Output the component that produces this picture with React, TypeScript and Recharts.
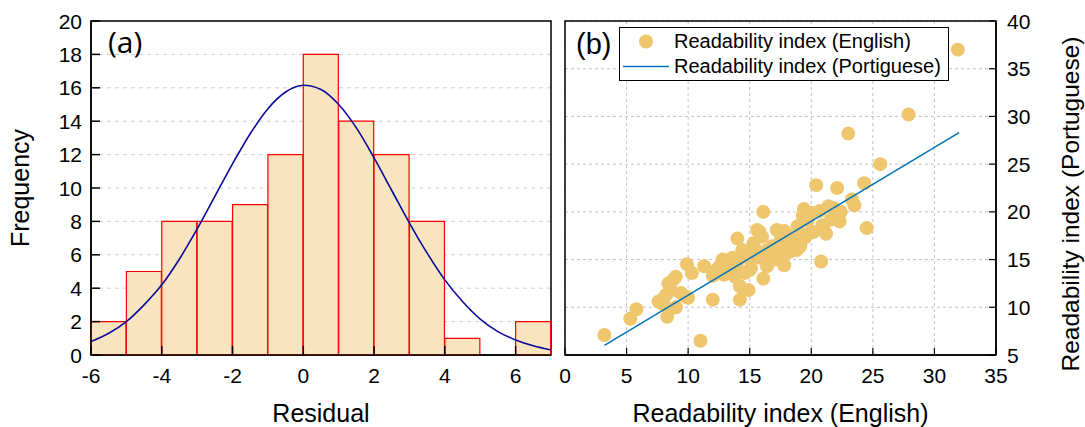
import React from 'react';
import {
  ComposedChart, Bar, Line, XAxis, YAxis, CartesianGrid, ReferenceArea,
  ScatterChart, Scatter, Legend,
} from 'recharts';

// (a) histogram of residuals + fitted normal curve
const binCenters = [-5.5, -4.5, -3.5, -2.5, -1.5, -0.5, 0.5, 1.5, 2.5, 3.5, 4.5, 5.5, 6.5];
const binCounts = [2, 5, 8, 8, 9, 12, 18, 14, 12, 8, 1, 0, 2];
const curveX = [-6, -5.5, -5, -4.5, -4, -3.5, -3, -2.5, -2, -1.5, -1, -0.5, 0, 0.5, 1, 1.5, 2, 2.5, 3, 3.5, 4, 4.5, 5, 5.5, 6, 6.5, 7];
const curveY = [0.8, 1.3, 2.0, 3.0, 4.2, 5.75, 7.55, 9.5, 11.45, 13.25, 14.75, 15.75, 16.15, 15.9, 15.0, 13.6, 11.8, 9.85, 7.9, 6.1, 4.5, 3.2, 2.15, 1.4, 0.9, 0.55, 0.3];
const residualTicks = [-6, -4, -2, 0, 2, 4, 6];
const freqTicks = [0, 2, 4, 6, 8, 10, 12, 14, 16, 18, 20];

// (b) readability scatter + fit line
const englishIdx = [
  3.2, 5.3, 5.8, 8.3, 9.0, 7.6, 8.0, 9.8, 8.4, 9.0, 8.6, 9.9, 10.3, 11.0, 11.3, 12.0, 12.0, 12.8, 12.9, 14.0, 14.2, 14.2, 14.9, 14.1, 13.3, 15.1, 15.5, 15.6, 16.1,
  25.6, 20.4, 22.1, 24.3, 23.5, 23.3, 24.5, 19.4, 20.7, 21.4, 22.0, 22.3, 21.2, 20.9, 19.9, 19.1, 19.7, 15.8, 17.2, 18.0, 18.6, 19.1, 18.8, 17.8, 17.5, 17.0, 16.4, 15.3, 15.1, 14.5, 16.1, 12.8, 20.8, 17.5, 18.3, 16.4, 13.8, 13.4,
  31.9, 27.9, 23.0,
  8.2, 8.8, 7.9, 9.4, 8.5, 10.0, 12.5, 13.0, 13.9, 14.6, 15.0, 15.8, 16.2, 16.8, 17.3, 18.2, 18.9, 19.3, 20.0, 21.0, 21.6, 22.4, 16.0, 15.4, 14.4, 17.8, 19.5, 20.2, 21.8, 13.6, 12.2,
];
const portugueseIdx = [
  7.1, 8.8, 9.8, 9.0, 10.0, 10.6, 10.9, 11.1, 12.5, 13.2, 11.8, 14.5, 13.6, 6.5, 14.3, 10.8, 13.3, 15.0, 13.4, 17.2, 10.8, 12.2, 11.8, 15.0, 14.5, 14.1, 16.0, 18.1, 20.0,
  25.0, 22.8, 22.5, 23.0, 20.7, 21.3, 18.3, 20.3, 20.1, 20.6, 19.5, 19.0, 17.7, 18.6, 17.8, 17.7, 19.1, 17.9, 18.1, 17.6, 17.2, 16.4, 16.0, 14.4, 15.3, 15.0, 16.0, 16.7, 15.0, 15.3, 13.0, 14.8, 14.8, 17.0, 16.4, 14.3, 13.2, 14.1,
  37.0, 30.2, 28.2,
  11.3, 12.9, 10.4, 11.5, 9.8, 11.0, 14.2, 14.6, 14.4, 13.6, 13.9, 15.2, 15.6, 16.4, 16.1, 15.8, 18.5, 19.6, 19.9, 18.2, 19.2, 20.0, 17.4, 16.2, 16.0, 18.0, 17.3, 17.9, 20.4, 15.2, 13.8,
];
const fitEnglish = [3.2, 32.0];
const fitPortuguese = [6.0, 28.3];
const englishTicks = [0, 5, 10, 15, 20, 25, 30, 35];
const portugueseTicks = [5, 10, 15, 20, 25, 30, 35, 40];

const binData = binCenters.map((b, i) => ({ bin: b, count: binCounts[i] }));
const curveData = curveX.map((x, i) => ({ x, y: curveY[i] }));
const scatterData = englishIdx.map((x, i) => ({ x, y: portugueseIdx[i] }));
const fitData = fitEnglish.map((x, i) => ({ x, y: fitPortuguese[i] }));

const FONT = '"Liberation Sans", Arial, Helvetica, sans-serif';
const MARKER = '#EEC66E';
const FIT = '#0072BD';

const HistXTick = (p: any) => (
  <g>
    <line x1={p.x} x2={p.x} y1={p.y} y2={p.y - 9} stroke="#000" strokeWidth={1.5} />
    <text x={p.x} y={p.y + 28} textAnchor="middle" fontSize={21} fontFamily={FONT} fill="#000">
      {p.payload.value}
    </text>
  </g>
);

const HistYTick = (p: any) => (
  <g>
    <line x1={p.x} x2={p.x + 9} y1={p.y} y2={p.y} stroke="#000" strokeWidth={1.5} />
    <text x={p.x - 9} y={p.y + 7.5} textAnchor="end" fontSize={21} fontFamily={FONT} fill="#000">
      {p.payload.value}
    </text>
  </g>
);

const ScatXTick = (p: any) => (
  <g>
    <line x1={p.x} x2={p.x} y1={p.y} y2={p.y - 7} stroke="#000" strokeWidth={1.2} />
    <text x={p.x} y={p.y + 28} textAnchor="middle" fontSize={21} fontFamily={FONT} fill="#000">
      {p.payload.value}
    </text>
  </g>
);

const ScatYTick = (p: any) => (
  <g>
    <line x1={p.x} x2={p.x - 7} y1={p.y} y2={p.y} stroke="#000" strokeWidth={1.2} />
    <text x={p.x + 11} y={p.y + 7.5} textAnchor="start" fontSize={21} fontFamily={FONT} fill="#000">
      {p.payload.value}
    </text>
  </g>
);

const titleX = (text: string) => (props: any) => {
  const vb = props.viewBox || {};
  return (
    <text x={vb.x + vb.width / 2} y={vb.y + 67} textAnchor="middle" fontSize={25} fontFamily={FONT} fill="#000">
      {text}
    </text>
  );
};

const freqTitle = (props: any) => {
  const vb = props.viewBox || {};
  return (
    <text transform={`translate(${vb.x + 29},${vb.y + vb.height / 2}) rotate(-90)`} textAnchor="middle" fontSize={25} fontFamily={FONT} fill="#000">
      Frequency
    </text>
  );
};

const portTitle = (props: any) => {
  const vb = props.viewBox || {};
  return (
    <text transform={`translate(${vb.x + 83},${vb.y + vb.height / 2 + 16}) rotate(-90)`} textAnchor="middle" fontSize={24.5} fontFamily={FONT} fill="#000">
      Readability index (Portuguese)
    </text>
  );
};

const LegendBox = (props: any) => {
  const items = props.payload || [];
  return (
    <div style={{ width: 330, height: 54, border: '1px solid #000', background: '#fff', boxSizing: 'border-box', fontFamily: FONT, fontSize: 20, color: '#000', paddingTop: 1 }}>
      {items.map((it: any, i: number) => (
        <div key={i} style={{ display: 'flex', alignItems: 'center', height: 25 }}>
          <svg width={54} height={25} style={{ flex: 'none' }}>
            {it.type === 'circle'
              ? <circle cx={26} cy={12.5} r={7} fill={MARKER} />
              : <line x1={3} x2={49} y1={12.5} y2={12.5} stroke={FIT} strokeWidth={1.5} />}
          </svg>
          <span style={{ lineHeight: '25px', whiteSpace: 'nowrap' }}>{it.value}</span>
        </div>
      ))}
    </div>
  );
};

const Dot = (p: any) => <circle cx={p.cx} cy={p.cy} r={7} fill={MARKER} />;
const NoDot = () => <g />;

export default function App() {
  return (
    <div style={{ position: 'absolute', left: 0, top: 0, width: 1085, height: 427, background: '#fff' }}>
      <div style={{ position: 'absolute', left: 0, top: 0 }}>
        <ComposedChart width={560} height={427} data={binData} margin={{ top: 21, right: 9, left: 0, bottom: 0 }} barCategoryGap={0} barGap={0}>
          <CartesianGrid xAxisId="num" vertical={false} stroke="#cfcfcf" strokeDasharray="4 4" />
          <XAxis xAxisId="bins" dataKey="bin" type="category" hide height={0} />
          <XAxis xAxisId="num" dataKey="x" type="number" domain={[-6, 7]} ticks={residualTicks} allowDataOverflow
            height={72} tickSize={0} tickMargin={0} tickLine={false} axisLine={{ stroke: '#000', strokeWidth: 1.5 }}
            tick={HistXTick} interval={0} label={titleX('Residual')} />
          <YAxis domain={[0, 20]} ticks={freqTicks} width={91} tickSize={0} tickMargin={0} tickLine={false}
            axisLine={{ stroke: '#000', strokeWidth: 1.5 }} tick={HistYTick} interval={0} label={freqTitle} />
          <Bar xAxisId="bins" dataKey="count" fill="#F8E5BF" stroke="#FF0000" strokeWidth={1.2} isAnimationActive={false} />
          <Line xAxisId="num" data={curveData} dataKey="y" type="monotone" stroke="#0A0A9E" strokeWidth={1.6} dot={false} activeDot={false} isAnimationActive={false} />
          <ReferenceArea xAxisId="num" x1={-6} x2={7} y1={0} y2={20} fill="none" stroke="#000" strokeWidth={1.5} ifOverflow="visible" />
        </ComposedChart>
      </div>

      <div style={{ position: 'absolute', left: 540, top: 0 }}>
        <ScatterChart width={545} height={427} margin={{ top: 21, right: 0, left: 25, bottom: 0 }}>
          <CartesianGrid stroke="#c4c4c4" strokeDasharray="3 3" />
          <XAxis dataKey="x" type="number" domain={[0, 35]} ticks={englishTicks} allowDataOverflow height={72}
            tickSize={0} tickMargin={0} tickLine={false} axisLine={{ stroke: '#000', strokeWidth: 1.5 }}
            tick={ScatXTick} interval={0} label={titleX('Readability index (English)')} />
          <YAxis dataKey="y" type="number" orientation="right" domain={[5, 40]} ticks={portugueseTicks} allowDataOverflow width={89}
            tickSize={0} tickMargin={0} tickLine={false} axisLine={{ stroke: '#000', strokeWidth: 1.5 }}
            tick={ScatYTick} interval={0} label={portTitle} />
          <Scatter name="Readability index (English)" data={scatterData} shape={Dot} legendType="circle" fill={MARKER} isAnimationActive={false} />
          <Scatter name="Readability index (Portiguese)" data={fitData} shape={NoDot} line={{ stroke: FIT, strokeWidth: 1.5 }} legendType="line" fill={FIT} isAnimationActive={false} />
          <ReferenceArea x1={0} x2={35} y1={5} y2={40} fill="none" stroke="#000" strokeWidth={1.5} ifOverflow="visible" />
          <Legend content={LegendBox} layout="horizontal" verticalAlign="middle" align="center"
            wrapperStyle={{ left: 79, top: 27, width: 330, height: 54 }} />
        </ScatterChart>
      </div>

      <svg width={1085} height={427} style={{ position: 'absolute', left: 0, top: 0, pointerEvents: 'none' }}>
        <text x={108} y={53} fontSize={30} fontFamily='"Open Sans", sans-serif' fill="#000">(a)</text>
        <text x={576} y={54} fontSize={29} fontFamily={FONT} fill="#000">(b)</text>
      </svg>
    </div>
  );
}
